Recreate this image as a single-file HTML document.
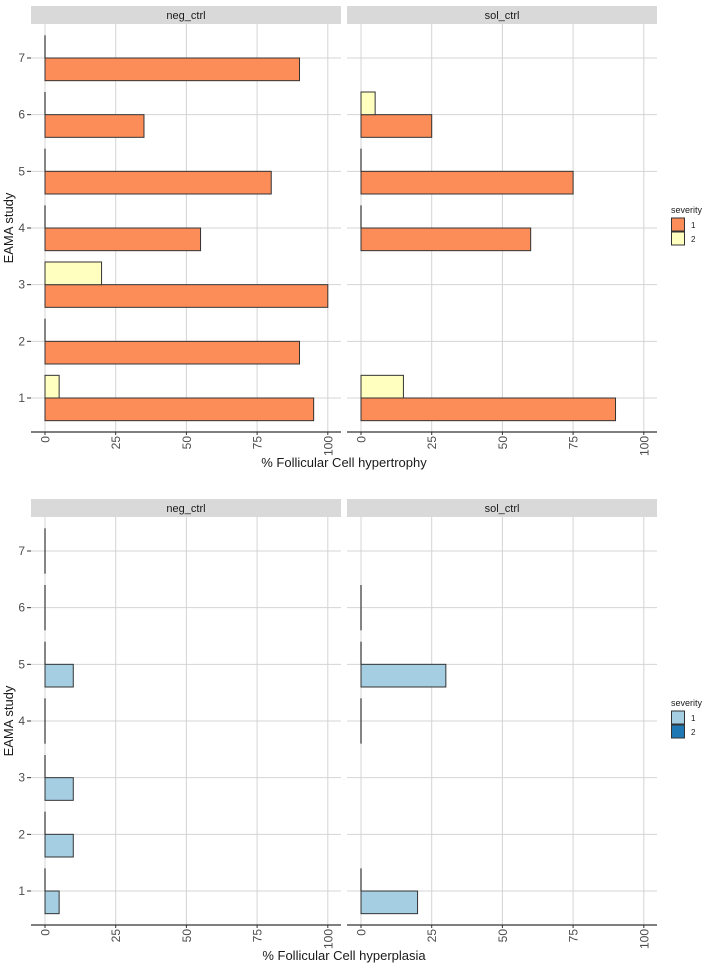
<!DOCTYPE html>
<html><head><meta charset="utf-8"><style>
body{margin:0;background:#fff;}
svg{display:block;font-family:"Liberation Sans",sans-serif;}
</style></head><body>
<svg id="chart" width="709" height="970"></svg>
<script>
const levels=[1,2,3,4,5,6,7];
const tickVals=[0,25,50,75,100];
const tickLabels=["0","25","50","75","100"];
const panelNames=["neg_ctrl","sol_ctrl"];
// top chart: hypertrophy
const hypNegSev1=[95,90,100,55,80,35,90];
const hypNegSev2=[5,0,20,0,0,0,0];
const hypSolSev1=[90,null,null,60,75,25,null];
const hypSolSev2=[15,null,null,0,0,5,null];
// bottom chart: hyperplasia
const plaNegSev1=[5,10,10,0,10,0,0];
const plaNegSev2=[0,0,0,0,0,0,0];
const plaSolSev1=[20,null,null,0,30,0,null];
const plaSolSev2=[0,null,null,0,0,0,null];

const NS="http://www.w3.org/2000/svg";
const svg=document.getElementById('chart');
function mk(tag,attrs,parent){const e=document.createElementNS(NS,tag);for(const k in attrs)e.setAttribute(k,attrs[k]);(parent||svg).appendChild(e);return e;}

function drawChart(top,title,sev1Data,sev2Data,c1,c2,chartName){
  const g=mk('g',{});
  
  
  const pTop=top+18, pBot=top+426;
  const yS=v=>pTop+(7.6-v)/7.2*(pBot-pTop);
  const bw=0.4*(pBot-pTop)/7.2;
  const panels=[[31,341],[347,657]];
  panels.forEach((p,pi)=>{
    const x0=p[0]+14, xS=v=>x0+v/100*282.8;
    const strip=mk('rect',{x:p[0],y:top,width:p[1]-p[0],height:18,fill:'#d9d9d9'},g);
    
    
    const st=mk('text',{x:(p[0]+p[1])/2,y:top+13,'text-anchor':'middle','font-size':11,fill:'#1a1a1a'},g);
    st.textContent=panelNames[pi];
    
    
    tickVals.forEach((t,i)=>{
      mk('line',{x1:xS(t),x2:xS(t),y1:pTop,y2:pBot,stroke:'#d4d4d4','stroke-width':1},g);
      mk('line',{x1:xS(t),x2:xS(t),y1:pBot,y2:pBot+3,stroke:'#333','stroke-width':1},g);
      const tl=mk('text',{transform:`translate(${xS(t)+4.5},${pBot+4}) rotate(-90)`,'text-anchor':'end','font-size':12,fill:'#4d4d4d'},g);
      tl.textContent=tickLabels[i];
      
      
    });
    levels.forEach(l=>mk('line',{x1:p[0],x2:p[1],y1:yS(l),y2:yS(l),stroke:'#d4d4d4','stroke-width':1},g));
    mk('line',{x1:p[0],x2:p[1],y1:pBot,y2:pBot,stroke:'#333','stroke-width':1.2},g);
    const s1=sev1Data[pi], s2=sev2Data[pi];
    levels.forEach((l,i)=>{
      [[s1[i],c1,0,'1'],[s2[i],c2,-bw,'2']].forEach(d=>{
        if(d[0]===null)return;
        const y=yS(l)+d[2];
        if(d[0]===0){
          const ln=mk('line',{x1:x0,x2:x0,y1:y,y2:y+bw,stroke:'#333','stroke-width':1.2},g);
          
          
        } else {
          const r=mk('rect',{x:x0,y:y,width:xS(d[0])-x0,height:bw,fill:d[1],stroke:'#333','stroke-width':1},g);
          
          
        }
      });
    });
  });
  levels.forEach(l=>{
    mk('line',{x1:27,x2:31,y1:yS(l),y2:yS(l),stroke:'#333'},g);
    const t=mk('text',{x:25,y:yS(l)+4,'text-anchor':'end','font-size':12,fill:'#4d4d4d'},g);
    t.textContent=String(l);
    
    
  });
  const yt=mk('text',{transform:`translate(13,${(pTop+pBot)/2}) rotate(-90)`,'text-anchor':'middle','font-size':13,fill:'#1a1a1a'},g);
  yt.textContent='EAMA study';
  
  
  const xt=mk('text',{x:344,y:pBot+35,'text-anchor':'middle','font-size':13,fill:'#1a1a1a'},g);
  xt.textContent=title;
  
  
  const ly=(pTop+pBot)/2;
  const lt=mk('text',{x:671,y:ly-15,'font-size':9,fill:'#1a1a1a'},g);
  lt.textContent='severity';
  
  
  [[c1,'1'],[c2,'2']].forEach((d,i)=>{
    const k=mk('rect',{x:671.5,y:ly-10+i*14,width:13,height:13,fill:d[0],stroke:'#333'},g);
    
    
    const t=mk('text',{x:691,y:ly+i*14,'font-size':8,fill:'#1a1a1a'},g);
    t.textContent=d[1];
    
    
  });
}
drawChart(6,'% Follicular Cell hypertrophy',[hypNegSev1,hypSolSev1],[hypNegSev2,hypSolSev2],'#FC8D59','#FFFFBF','hypertrophy-chart');
drawChart(499,'% Follicular Cell hyperplasia',[plaNegSev1,plaSolSev1],[plaNegSev2,plaSolSev2],'#A6CEE3','#1F78B4','hyperplasia-chart');
</script>
</body></html>
